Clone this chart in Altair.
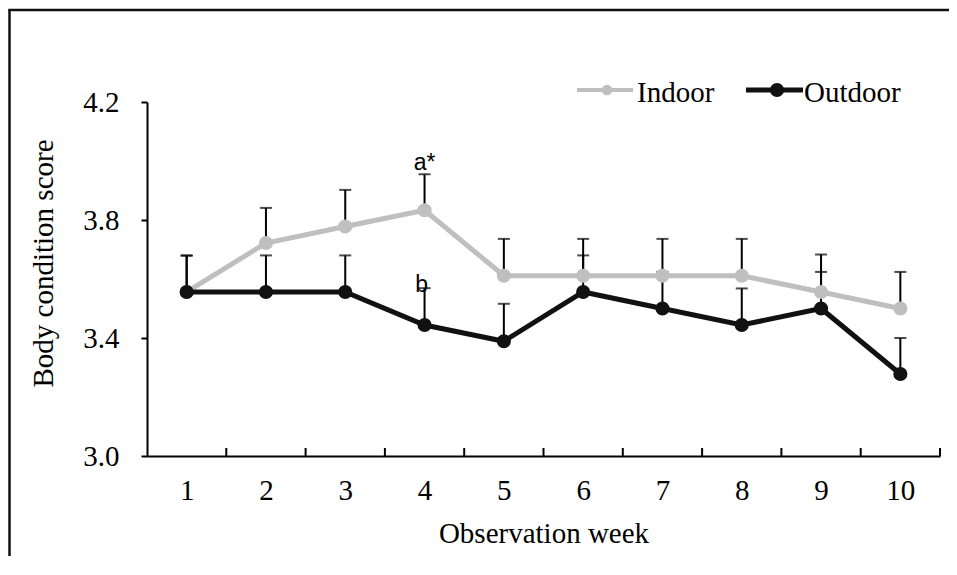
import altair as alt
import pandas as pd

# ---- data ----
weeks = [1, 2, 3, 4, 5, 6, 7, 8, 9, 10]
indoor = [3.556, 3.722, 3.778, 3.833, 3.611, 3.611, 3.611, 3.611, 3.556, 3.500]
outdoor = [3.556, 3.556, 3.556, 3.444, 3.389, 3.556, 3.500, 3.444, 3.500, 3.278]
indoor_se = [0.123, 0.119, 0.124, 0.122, 0.125, 0.125, 0.125, 0.125, 0.127, 0.124]
outdoor_se = [0.124, 0.124, 0.124, 0.125, 0.127, 0.124, 0.124, 0.124, 0.124, 0.122]
y_ticks = [3.0, 3.4, 3.8, 4.2]
band_edges = [1.5, 2.5, 3.5, 4.5, 5.5, 6.5, 7.5, 8.5, 9.5, 10.5]
series_names = ["Indoor", "Outdoor"]
series_colors = ["#BFBFBF", "#111111"]

df = pd.DataFrame({
    "week": weeks * 2,
    "series": [series_names[0]] * 10 + [series_names[1]] * 10,
    "mean": indoor + outdoor,
    "se": indoor_se + outdoor_se,
})
df["upper"] = df["mean"] + df["se"]
df_in = df[df.series == "Indoor"]
df_out = df[df.series == "Outdoor"]

W, H = 793, 354
SERIF = "Liberation Serif, Times New Roman, serif"

xs = alt.Scale(domain=[0.5, 10.5], nice=False, zero=False)
ys = alt.Scale(domain=[3.0, 4.2], nice=False, zero=False)

x_enc = alt.X("week:Q", scale=xs, axis=alt.Axis(
    values=weeks, format="d", ticks=False, tickSize=0, labelPadding=20, grid=False,
    title="Observation week", titleBaseline="alphabetic", titleY=86,
    labelFont=SERIF, labelFontSize=29, titleFont=SERIF, titleFontSize=29,
))
y_enc = alt.Y("mean:Q", scale=ys, axis=alt.Axis(
    values=y_ticks, format=".1f", tickSize=6, labelPadding=22, grid=False,
    title="Body condition score", titleAngle=270, titleX=-104, titleY=161,
    titleAlign="center", titleBaseline="middle",
    labelFont=SERIF, labelFontSize=29, titleFont=SERIF, titleFontSize=29,
))
color_enc = alt.Color("series:N", scale=alt.Scale(domain=series_names, range=series_colors), legend=None)

err = alt.Chart(df).mark_rule(color="#000000", strokeWidth=2).encode(
    x=x_enc, y=y_enc, y2="upper:Q")
caps = alt.Chart(df).mark_tick(color="#000000", orient="horizontal", size=12, thickness=2).encode(
    x=x_enc, y=alt.Y("upper:Q", scale=ys))

def series_layers(d):
    line = alt.Chart(d).mark_line(strokeWidth=5).encode(x=x_enc, y=y_enc, color=color_enc)
    pts = alt.Chart(d).mark_circle(size=200, opacity=1).encode(x=x_enc, y=y_enc, color=color_enc)
    return line + pts

band_df = pd.DataFrame({"edge": band_edges})
xticks = alt.Chart(band_df).mark_rule(color="#000000", strokeWidth=2).encode(
    x=alt.X("edge:Q", scale=xs), y=alt.value(H - 8), y2=alt.value(H))

ann_df = pd.DataFrame({
    "week": [4, 4],
    "y": [indoor[3] + indoor_se[3], outdoor[3] + outdoor_se[3]],
    "label": ["a*", "b"],
})
ann_a = alt.Chart(ann_df.iloc[[0]]).mark_text(
    font="Liberation Sans", fontSize=23, baseline="alphabetic", dy=-4, color="#000000").encode(
    x=alt.X("week:Q", scale=xs), y=alt.Y("y:Q", scale=ys), text="label:N")
ann_b = alt.Chart(ann_df.iloc[[1]]).mark_text(
    font="Liberation Sans", fontSize=23, baseline="alphabetic", dy=4, dx=-3, color="#000000").encode(
    x=alt.X("week:Q", scale=xs), y=alt.Y("y:Q", scale=ys), text="label:N")

# ---- legend (drawn by hand) ----
one = pd.DataFrame({"k": [0]})
leg_y = -12
leg = (
    alt.Chart(one).mark_rule(color=series_colors[0], strokeWidth=4).encode(
        x=alt.value(430), x2=alt.value(486), y=alt.value(leg_y))
    + alt.Chart(one).mark_circle(color=series_colors[0], size=110, opacity=1).encode(
        x=alt.value(460), y=alt.value(leg_y))
    + alt.Chart(one).mark_text(text=series_names[0], font=SERIF, fontSize=29, align="left",
                               baseline="alphabetic", color="#000000").encode(
        x=alt.value(490), y=alt.value(-0.5))
    + alt.Chart(one).mark_rule(color=series_colors[1], strokeWidth=5).encode(
        x=alt.value(599), x2=alt.value(656), y=alt.value(leg_y))
    + alt.Chart(one).mark_circle(color=series_colors[1], size=200, opacity=1).encode(
        x=alt.value(630), y=alt.value(leg_y))
    + alt.Chart(one).mark_text(text=series_names[1], font=SERIF, fontSize=29, align="left",
                               baseline="alphabetic", color="#000000").encode(
        x=alt.value(657), y=alt.value(-0.5))
)

# ---- outer frame (left and top edges visible in the reference) ----
BOTTOM = H + 100
frame = (
    alt.Chart(one).mark_rule(color="#111111", strokeWidth=2.5).encode(
        x=alt.value(-137.5), y=alt.value(-92), y2=alt.value(BOTTOM))
    + alt.Chart(one).mark_rule(color="#111111", strokeWidth=2.5).encode(
        x=alt.value(-138.75), x2=alt.value(803), y=alt.value(-92))
)

chart = alt.layer(
    err, caps, xticks,
    series_layers(df_in), series_layers(df_out),
    ann_a, ann_b, leg, frame,
).properties(
    width=W, height=H,
    autosize=alt.AutoSizeParams(type="none"),
    padding={"left": 139, "top": 94, "right": 9, "bottom": 100},
).configure_view(stroke=None).configure_axis(
    domainColor="#000000", domainWidth=2, tickColor="#000000", tickWidth=2,
    labelColor="#000000", titleColor="#000000", titleFontWeight="normal",
)

chart.save("out.html", embed_options={"renderer": "svg", "actions": False})
